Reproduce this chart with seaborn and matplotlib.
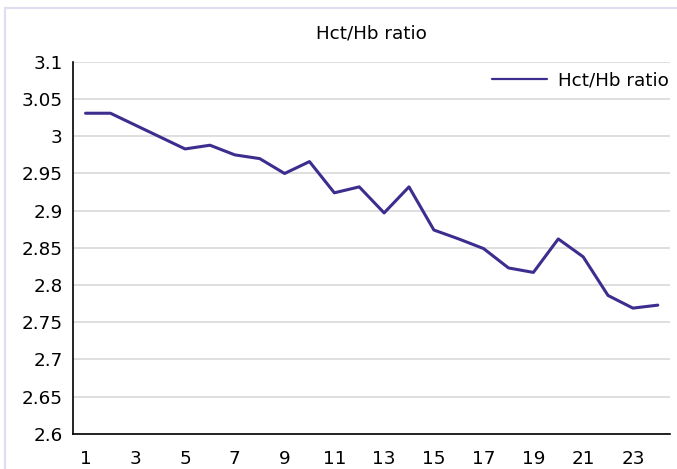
import pandas as pd
import matplotlib
matplotlib.use("Agg")
import matplotlib.pyplot as plt
import seaborn as sns
from matplotlib.patches import Rectangle

# data
sample = list(range(1, 25))
ratio = [3.031, 3.031, 3.015, 2.999, 2.983, 2.988, 2.975, 2.970, 2.950, 2.966,
         2.924, 2.932, 2.897, 2.932, 2.874, 2.862, 2.849, 2.823, 2.817, 2.862,
         2.838, 2.786, 2.769, 2.773]
yticks = [2.6, 2.65, 2.7, 2.75, 2.8, 2.85, 2.9, 2.95, 3, 3.05, 3.1]
ytick_labels = ["2.6", "2.65", "2.7", "2.75", "2.8", "2.85", "2.9", "2.95", "3", "3.05", "3.1"]

df = pd.DataFrame({"sample": sample, "Hct/Hb ratio": ratio})

sns.set_theme(style="white")
plt.rcParams['font.family'] = ['DejaVu Sans']
plt.rcParams['text.color'] = 'black'
plt.rcParams['xtick.color'] = 'black'
plt.rcParams['ytick.color'] = 'black'

fs = 13.2
fig = plt.figure(figsize=(6.77, 4.69), dpi=100)
ax = fig.add_axes([0.108, 0.075, 0.882, 0.793])

sns.lineplot(data=df, x="sample", y="Hct/Hb ratio", color="#3B2E8E", linewidth=2.2,
             ax=ax, label="Hct/Hb ratio")

ax.set_xlim(0.5, 24.5)
ax.set_ylim(2.6, 3.1)
ax.set_yticks(yticks)
ax.set_yticklabels(ytick_labels, fontsize=fs)
ax.set_xticks(sample[::2])
ax.set_xticklabels([str(s) for s in sample[::2]], fontsize=fs)
ax.set_xticks([s + 0.5 for s in range(0, 25)], minor=True)
ax.tick_params(axis="x", which="major", length=0, pad=11.5)
ax.tick_params(axis="x", which="minor", length=4.5, width=1, color="black", direction="out")
ax.tick_params(axis="y", length=4.5, width=1, color="black", direction="out", pad=3)
ax.grid(axis="y", color="#D9D9D9", linewidth=1.2)
ax.set_axisbelow(True)
ax.set_xlabel("")
ax.set_ylabel("")

for side in ["top", "right"]:
    ax.spines[side].set_visible(False)
for side in ["left", "bottom"]:
    ax.spines[side].set_color("black")
    ax.spines[side].set_linewidth(1.2)

ax.set_title("Hct/Hb ratio", fontsize=fs, pad=17)
leg = ax.legend(loc="upper right", frameon=False, fontsize=fs, handlelength=3.0,
                handletextpad=0.6, bbox_to_anchor=(1.01, 0.995), borderaxespad=0.0)
for h in leg.get_lines():
    h.set_linewidth(1.6)

# chart-area border: only left and top edges show in the crop
fig.patches.append(Rectangle((5 / 677, -0.1), 1.2, 1.0 - 8 / 469 + 0.1,
                             transform=fig.transFigure, fill=False,
                             edgecolor="#E0DEF0", linewidth=1.6))

fig.savefig("out.png", dpi=100)
